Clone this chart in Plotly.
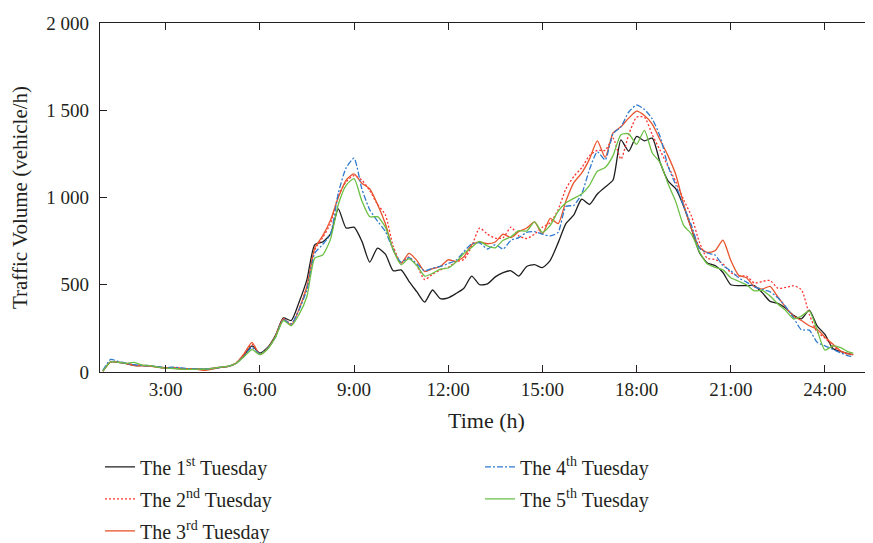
import plotly.graph_objects as go

# time grid (hours), 15-minute steps from 1:00, plus final sample
HOURS = [1 + 0.25 * i for i in range(96)] + [24.9]

TUE1 = [5, 58, 55, 48, 38, 36, 35, 28, 22, 22, 19, 17, 16, 17, 20, 26,
        32, 50, 95, 150, 108, 140, 210, 310, 295, 400, 529, 730, 745, 790, 935, 825,
        830, 750, 630, 710, 675, 580, 585, 520, 460, 400, 470, 420, 425, 450, 480, 550,
        500, 505, 545, 570, 580, 550, 605, 615, 598, 640, 740, 850, 900, 990, 960, 1020,
        1060, 1100, 1330, 1265, 1350, 1325, 1340, 1200, 1095, 1050, 950, 820, 685, 625, 610, 570,
        500, 495, 495, 495, 455, 405, 393, 365, 325, 305, 355, 265, 215, 135, 118, 105, 99]

TUE2 = [5, 60, 57, 50, 40, 38, 36, 29, 25, 26, 22, 18, 17, 14, 22, 28,
        33, 52, 100, 160, 105, 138, 205, 305, 275, 360, 490, 700, 770, 850, 1010, 1090,
        1125, 1100, 1040, 960, 900, 720, 625, 660, 610, 530, 560, 585, 600, 632, 645, 720,
        825, 790, 767, 770, 830, 780, 765, 790, 830, 855, 930, 1050, 1120, 1170, 1240, 1270,
        1270, 1340, 1220, 1360, 1460, 1460, 1360, 1270, 1180, 1090, 987, 892, 745, 652, 645, 620,
        570, 550, 550, 510, 519, 525, 480, 485, 494, 472, 330, 230, 195, 148, 115, 102, 99]

TUE3 = [5, 58, 55, 48, 36, 36, 34, 27, 22, 21, 18, 16, 15, 10, 18, 26,
        32, 52, 105, 170, 100, 135, 205, 305, 268, 360, 490, 710, 780, 870, 1000, 1100,
        1135, 1082, 1050, 960, 850, 700, 624, 680, 640, 576, 592, 605, 643, 634, 660, 730,
        745, 735, 745, 790, 770, 805, 825, 860, 790, 880, 850, 980, 1085, 1140, 1220, 1325,
        1230, 1370, 1405, 1455, 1495, 1470, 1420, 1330, 1240, 1130, 960, 820, 715, 685, 695, 755,
        640, 555, 540, 490, 475, 491, 430, 370, 320, 295, 265, 245, 200, 160, 120, 104, 99]

TUE4 = [8, 72, 60, 50, 42, 38, 36, 30, 25, 28, 24, 18, 18, 17, 20, 27,
        33, 50, 92, 140, 105, 135, 200, 300, 275, 357, 471, 681, 730, 790, 1025, 1170,
        1225, 1050, 930, 865, 805, 700, 630, 655, 620, 580, 595, 605, 622, 640, 690, 735,
        740, 705, 730, 705, 755, 770, 800, 805, 790, 780, 800, 949, 955, 1020, 1160, 1262,
        1216, 1365, 1405, 1490, 1530, 1505, 1450, 1350, 1180, 1070, 950, 840, 710, 682, 670, 610,
        580, 540, 515, 488, 474, 460, 425, 375, 310, 242, 240, 170, 150, 130, 110, 92, 88]

TUE5 = [5, 58, 56, 50, 55, 40, 36, 28, 22, 20, 17, 15, 16, 16, 21, 28,
        33, 50, 88, 128, 100, 132, 200, 295, 265, 330, 433, 653, 670, 760, 960, 1070,
        1108, 980, 890, 890, 830, 700, 615, 650, 610, 550, 565, 590, 596, 630, 680, 715,
        748, 722, 712, 755, 775, 810, 808, 860, 800, 840, 920, 970, 995, 1020, 1070, 1150,
        1172, 1240, 1360, 1365, 1305, 1385, 1255, 1200, 1080, 975, 840, 790, 690, 620, 600, 585,
        540, 520, 500, 465, 468, 435, 390, 352, 305, 320, 350, 240, 125, 150, 140, 115, 108]

NAMES = ["The 1<sup>st</sup> Tuesday", "The 2<sup>nd</sup> Tuesday", "The 3<sup>rd</sup> Tuesday",
         "The 4<sup>th</sup> Tuesday", "The 5<sup>th</sup> Tuesday"]
X_TICKS = [3, 6, 9, 12, 15, 18, 21, 24]
X_LABELS = ["3:00", "6:00", "9:00", "12:00", "15:00", "18:00", "21:00", "24:00"]
Y_TICKS = [0, 500, 1000, 1500, 2000]
Y_LABELS = ["0", "500", "1 000", "1 500", "2 000"]

COLORS = ["#1e1e1e", "#ff3030", "#e8542c", "#2f7bcf", "#6cbf45"]
DASHES = ["solid", "2px,2px", "solid", "6px,2px,2px,2px", "solid"]
LEGENDS = ["legend", "legend", "legend", "legend2", "legend2"]

fig = go.Figure()
for name, vals, col, dash, lg in zip(NAMES, [TUE1, TUE2, TUE3, TUE4, TUE5], COLORS, DASHES, LEGENDS):
    fig.add_trace(go.Scatter(
        x=HOURS, y=vals, mode="lines", name=name, legend=lg, legendgroup=name,
        line=dict(color=col, width=1.3, dash=dash, shape="spline", smoothing=0.6),
    ))

axis_col = "#231f20"
leg_common = dict(xanchor="left", yanchor="top",
                  bgcolor="rgba(0,0,0,0)", traceorder="grouped", tracegroupgap=3,
                  font=dict(size=20))
# page body adds an 8px offset, so the figure is 8px smaller than the window
fig.update_layout(
    width=865, height=535,
    margin=dict(l=92, r=0, t=15, b=171, autoexpand=False),
    paper_bgcolor="white", plot_bgcolor="white",
    font=dict(family="Liberation Serif", size=18, color=axis_col),
    legend=dict(x=0.0, y=-0.216, **leg_common),
    legend2=dict(x=0.4916, y=-0.216, **leg_common),
    xaxis=dict(range=[0.91, 25.53], tickvals=X_TICKS, ticktext=X_LABELS,
               ticks="inside", ticklen=7, tickwidth=1, tickcolor=axis_col,
               showline=True, linecolor=axis_col, linewidth=1.3, mirror="ticks",
               showgrid=False, zeroline=False, tickfont=dict(size=19),
               title=dict(text="Time (h)", standoff=13, font=dict(size=22))),
    yaxis=dict(range=[0, 2000], tickvals=Y_TICKS, ticktext=Y_LABELS,
               ticks="inside", ticklen=7, tickwidth=1, tickcolor=axis_col,
               showline=True, linecolor=axis_col, linewidth=1.3,
               showgrid=False, zeroline=False, ticklabelstandoff=6, tickfont=dict(size=19),
               title=dict(text="Traffic Volume (vehicle/h)", standoff=15, font=dict(size=21))),
)

fig.write_html("out.html")
